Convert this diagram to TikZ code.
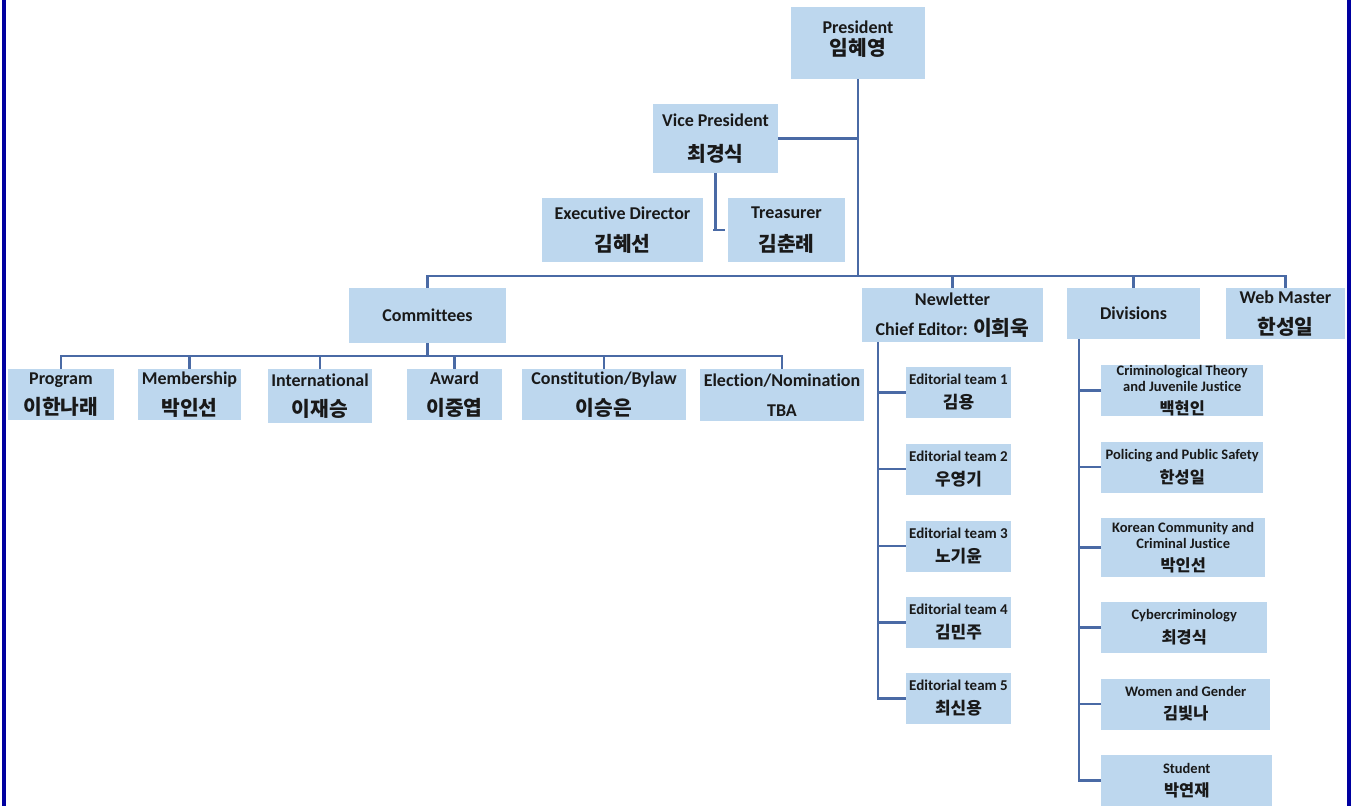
\documentclass[tikz,border=0pt]{standalone}
\usepackage{fontspec}
\setmainfont{Carlito}[Ligatures=NoCommon]
\newfontfamily\kr{Noto Sans CJK KR}[Scale=1.13]
\usetikzlibrary{positioning}
\definecolor{boxblue}{HTML}{BDD7EE}
\definecolor{linkblue}{HTML}{4A6AA5}
\definecolor{framebar}{HTML}{0000A0}

\begin{document}
\begin{tikzpicture}[x=1pt, y=-1pt,
  box/.style={fill=boxblue, inner sep=0pt, align=center, text=black!90,
    font=\fontsize{18}{21.6}\selectfont\bfseries},
  teambox/.style={box, minimum width=105, minimum height=51,
    font=\fontsize{15}{18}\selectfont\bfseries},
  divbox/.style={box, anchor=west, minimum height=51,
    font=\fontsize{14.5}{16}\selectfont\bfseries},
  link/.style={draw=linkblue, line width=2.2pt}]
\useasboundingbox (0,0) rectangle (1352,806);
% side bars
\fill[framebar] (2,0) rectangle (6,806);
\fill[framebar] (1347,0) rectangle (1351,806);

% officers
\node[box, minimum width=134, minimum height=72] (pres) at (858,43) {President\\{\kr 임혜영}\\[-12pt]};
\node[box, minimum width=125, minimum height=69] (vp) at (715.5,138.5) {Vice President\\[13pt]{\kr 최경식}};
\node[box, minimum width=161, minimum height=64] (ed) at (622.5,230) {Executive Director\\[11pt]{\kr 김혜선}};
\node[box, minimum width=117, minimum height=64] (tr) at (786.5,230) {Treasurer\\[11pt]{\kr 김춘례}};

% second level
\node[box, minimum width=157, minimum height=55] (com) at (427.5,315.5) {Committees};
\node[box, minimum width=181, minimum height=54] (news) at (952.5,315) {Newletter\\[9pt]Chief Editor: {\kr 이희욱}};
\node[box, minimum width=133, minimum height=51] (div) at (1133.5,313.5) {Divisions};
\node[box, minimum width=119, minimum height=51] (web) at (1285.5,313.5) {Web Master\\[9pt]{\kr 한성일}};

% committees
\node[box, minimum width=106, minimum height=51] (c1) at (61,394.5) {Program\\[9pt]{\kr 이한나래}};
\node[box, minimum width=103, minimum height=51] (c2) at (189.5,394.5) {Membership\\[9pt]{\kr 박인선}};
\node[box, minimum width=104, minimum height=54] (c3) at (320,396) {International\\[9pt]{\kr 이재승}};
\node[box, minimum width=95, minimum height=51] (c4) at (454.5,394.5) {Award\\[9pt]{\kr 이중엽}};
\node[box, minimum width=164, minimum height=51] (c5) at (604,394.5) {Constitution/Bylaw\\[9pt]{\kr 이승은}};
\node[box, minimum width=164, minimum height=52] (c6) at (782,395) {Election/Nomination\\[8pt]TBA};

% editorial teams
\foreach \i/\y/\n in {1/392.5/김용, 2/469/우영기, 3/546/노기윤, 4/622.5/김민주, 5/698.5/최신용}
  \node[teambox] (e\i) at (958.5,\y) {Editorial team \i\\[6pt]{\kr \n}};

% divisions
\node[divbox, minimum width=162] (d1) at (1101,390.5) {Criminological Theory\\and Juvenile Justice\\[7pt]{\kr 백현인}};
\node[divbox, minimum width=162] (d2) at (1101,467) {Policing and Public Safety\\[7pt]{\kr 한성일}};
\node[divbox, minimum width=164, minimum height=59] (d3) at (1101,547.5) {Korean Community and\\Criminal Justice\\[7pt]{\kr 박인선}};
\node[divbox, minimum width=166] (d4) at (1101,627.5) {Cybercriminology\\[7pt]{\kr 최경식}};
\node[divbox, minimum width=169] (d5) at (1101,704) {Women and Gender\\[7pt]{\kr 김빛나}};
\node[divbox, minimum width=171] (d6) at (1101,780.5) {Student\\[7pt]{\kr 박연재}};

% connectors
\coordinate (bus) at (858,276);
\draw[link] (pres.south) -- (bus);
\draw[link] (vp.east) -- (vp.east -| bus);
\draw[link] (vp.south) -- (vp.south |- ed.east);
\draw[link] ([xshift=10pt]ed.east) -- ([xshift=-3pt]tr.west);
\draw[link] (com.north) |- (bus) -| (web.north);
\draw[link] (news.north) -- (news.north |- bus);
\draw[link] (div.north) -- (div.north |- bus);

\coordinate (cbus) at (427.5,356);
\draw[link] (com.south) -- (cbus);
\draw[link] (c1.north) |- (cbus) -| (c6.north);
\foreach \n in {c2,c3,c4,c5}
  \draw[link] (\n.north) -- (\n.north |- cbus);

\coordinate (nsp) at ([xshift=16pt]news.south west);
\draw[link] (nsp) |- (e5.west);
\foreach \i in {1,...,4}
  \draw[link] (e\i.west) -- (e\i.west -| nsp);

\coordinate (dsp) at ([xshift=12pt]div.south west);
\draw[link] (dsp) |- (d6.west);
\foreach \i in {1,...,5}
  \draw[link] (d\i.west) -- (d\i.west -| dsp);
\end{tikzpicture}
\end{document}
